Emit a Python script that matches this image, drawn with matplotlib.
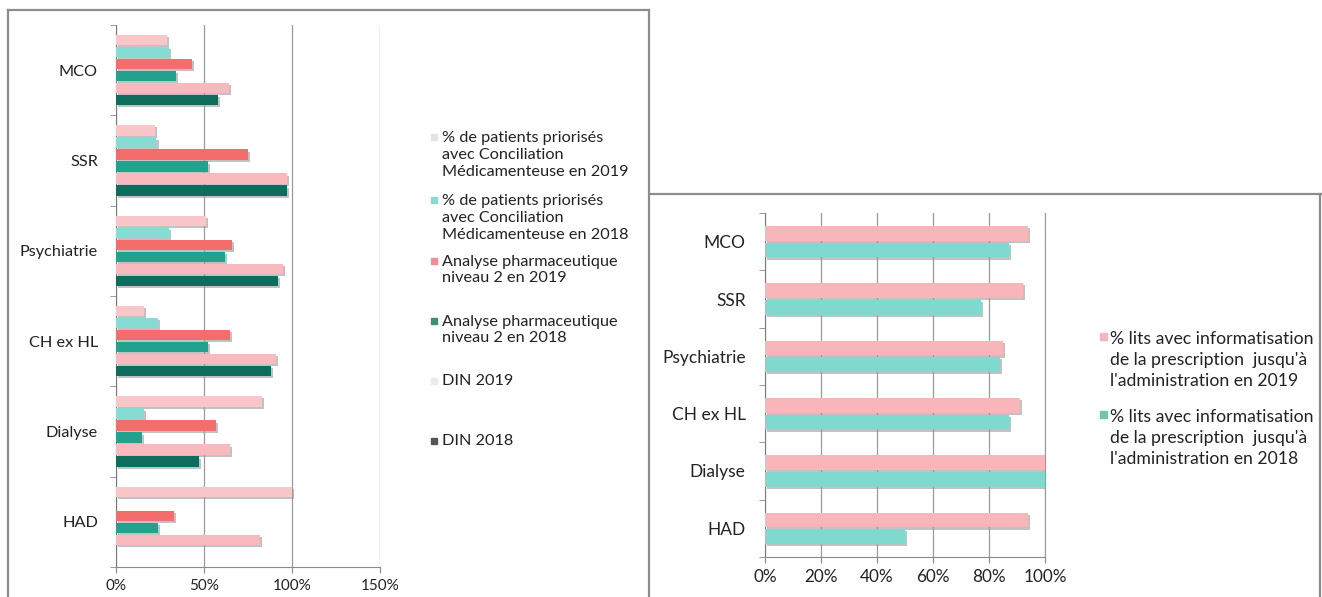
import matplotlib
matplotlib.use("Agg")
import matplotlib.pyplot as plt
import matplotlib.patheffects as pe
from matplotlib.lines import Line2D
from matplotlib.patches import Rectangle
import numpy as np

plt.rcParams['font.family'] = ['Lato', 'DejaVu Sans']

categories = ["MCO", "SSR", "Psychiatrie", "CH ex HL", "Dialyse", "HAD"]

# Left chart series (fractions)
left_labels = [
    "% de patients priorisés\navec Conciliation\nMédicamenteuse en 2019",
    "% de patients priorisés\navec Conciliation\nMédicamenteuse en 2018",
    "Analyse pharmaceutique\nniveau 2 en 2019",
    "Analyse pharmaceutique\nniveau 2 en 2018",
    "DIN 2019",
    "DIN 2018",
]
cm_2019 = [0.29, 0.22, 0.51, 0.16, 0.83, 1.00]
cm_2018 = [0.30, 0.23, 0.30, 0.24, 0.16, 0.00]
analyse_2019 = [0.43, 0.75, 0.66, 0.65, 0.57, 0.33]
analyse_2018 = [0.34, 0.52, 0.62, 0.52, 0.15, 0.24]
din_2019 = [0.64, 0.97, 0.95, 0.91, 0.65, 0.82]
din_2018 = [0.58, 0.97, 0.92, 0.88, 0.47, 0.00]
left_series = [cm_2019, cm_2018, analyse_2019, analyse_2018, din_2019, din_2018]
left_colors = ["#f9c6c9", "#86dbd2", "#f26d6b", "#23a18d", "#f8b9bf", "#0f6b5b"]
left_legend_colors = ["#e3e3e3", "#86dbd2", "#ee8f98", "#3f8f79", "#ececec", "#555555"]
left_ticks = [0, 0.5, 1.0, 1.5]
left_ticklabels = ["0%", "50%", "100%", "150%"]

# Right chart series
right_labels = [
    "% lits avec informatisation\nde la prescription  jusqu'à\nl'administration en 2019",
    "% lits avec informatisation\nde la prescription  jusqu'à\nl'administration en 2018",
]
info_2019 = [0.94, 0.92, 0.85, 0.91, 1.00, 0.94]
info_2018 = [0.87, 0.77, 0.84, 0.87, 1.00, 0.50]
right_series = [info_2019, info_2018]
right_colors = ["#f8b6bb", "#7fd9cf"]
right_legend_colors = ["#f3b6bd", "#6fc9a9"]
right_ticks = [0, 0.2, 0.4, 0.6, 0.8, 1.0]
right_ticklabels = ["0%", "20%", "40%", "60%", "80%", "100%"]

W, H = 1322, 597
fig = plt.figure(figsize=(W / 100, H / 100), dpi=100)
fig.patch.set_facecolor("white")

shadow = [pe.SimplePatchShadow(offset=(1.5, -1.5), shadow_rgbFace="#9a9a9a", alpha=0.6), pe.Normal()]
text_col = "#222222"

# ---------------- Left chart ----------------
axL = fig.add_axes([116 / W, 1 - 567 / H, (380 - 116) / W, (567 - 25) / H])
n = len(left_series)
ypos = np.arange(len(categories))
slot = 0.133
bh = 0.112
for i, (vals, col) in enumerate(zip(left_series, left_colors)):
    off = (i - (n - 1) / 2) * slot
    bars = axL.barh(ypos + off, vals, height=bh, color=col, zorder=3)
    for b in bars:
        b.set_path_effects(shadow)
axL.set_ylim(len(categories) - 0.5, -0.5)
axL.set_xlim(0, 1.5)
axL.set_xticks(left_ticks)
axL.set_xticklabels(left_ticklabels, fontsize=11, color=text_col)
axL.set_yticks(ypos)
axL.set_yticklabels(categories, fontsize=11.7, color=text_col)
axL.tick_params(axis='y', length=0, pad=13)
axL.set_yticks(np.arange(-0.5, len(categories) + 0.5, 1), minor=True)
axL.tick_params(axis='y', which='minor', length=4, color="#8a8a8a", direction='out')
axL.tick_params(axis='x', length=4, color="#8a8a8a", direction='out', pad=5)
axL.grid(axis='x', color="#9a9a9a", linewidth=0.9, zorder=0)
for s in ["top", "right"]:
    axL.spines[s].set_visible(False)
axL.spines["left"].set_color("#7a7a7a")
axL.spines["bottom"].set_color("#8a8a8a")

# left legend (manual)
leg_y = [155, 218, 270, 330, 381, 441]
for lab, col, yy in zip(left_labels, left_legend_colors, leg_y):
    fig.text(442 / W, 1 - yy / H, lab, fontsize=11.7, color=text_col, va='center', ha='left',
             linespacing=1.25)
    nlines = lab.count("\n") + 1
    ymark = yy - (nlines - 1) * 9
    fig.patches.append(Rectangle((431 / W, 1 - (ymark + 3) / H), 6 / W, 6 / H,
                                 transform=fig.transFigure, color=col, figure=fig))

# ---------------- Right chart ----------------
axR = fig.add_axes([765 / W, 1 - 557 / H, (1045 - 765) / W, (557 - 213) / H])
rslot = 0.29
rbh = 0.26
for i, (vals, col) in enumerate(zip(right_series, right_colors)):
    off = (i - 0.5) * rslot
    bars = axR.barh(ypos + off, vals, height=rbh, color=col, zorder=3)
    for b in bars:
        b.set_path_effects(shadow)
axR.set_ylim(len(categories) - 0.5, -0.5)
axR.set_xlim(0, 1.0)
axR.set_xticks(right_ticks)
axR.set_xticklabels(right_ticklabels, fontsize=12.3, color=text_col)
axR.set_yticks(ypos)
axR.set_yticklabels(categories, fontsize=12.5, color=text_col)
axR.tick_params(axis='y', length=0, pad=14)
axR.set_yticks(np.arange(-0.5, len(categories) + 0.5, 1), minor=True)
axR.tick_params(axis='y', which='minor', length=4, color="#8a8a8a", direction='out')
axR.tick_params(axis='x', length=4, color="#8a8a8a", direction='out', pad=5)
axR.grid(axis='x', color="#9a9a9a", linewidth=0.9, zorder=0)
axR.spines["top"].set_visible(False)
axR.spines["left"].set_color("#7a7a7a")
axR.spines["bottom"].set_color("#8a8a8a")
axR.spines["right"].set_color("#9a9a9a")

rleg_y = [360, 438]
for lab, col, yy in zip(right_labels, right_legend_colors, rleg_y):
    fig.text(1110 / W, 1 - yy / H, lab, fontsize=12.7, color=text_col, va='center', ha='left',
             linespacing=1.4)
    fig.patches.append(Rectangle((1100 / W, 1 - (yy - 24 + 4) / H), 7 / W, 7 / H,
                                 transform=fig.transFigure, color=col, figure=fig))

# ---------------- Panel frames ----------------
frame_col = "#8c8c8c"
def fline(x0, y0, x1, y1):
    fig.lines.append(Line2D([x0 / W, x1 / W], [1 - y0 / H, 1 - y1 / H],
                            transform=fig.transFigure, color=frame_col, linewidth=1.6))
fline(8, 10, 649, 10)
fline(8, 10, 8, 597)
fline(649, 10, 649, 597)
fline(650, 194, 1322, 194)
fline(1320, 194, 1320, 597)

fig.savefig("out.png", dpi=100, facecolor="white")
